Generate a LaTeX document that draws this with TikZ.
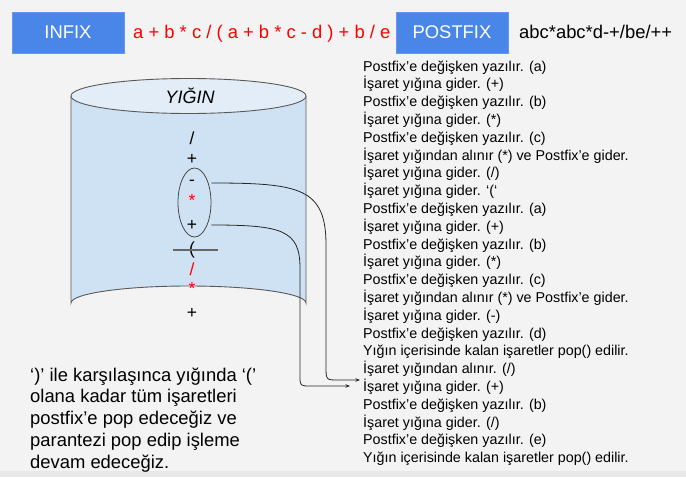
\documentclass[tikz,border=0pt]{standalone}
\usepackage{fontspec}
\setmainfont{Liberation Sans}
\usetikzlibrary{arrows.meta,shapes.geometric}
\definecolor{bg}{HTML}{F3F3F3}
\definecolor{boxblue}{HTML}{4A86E8}
\definecolor{cylfill}{HTML}{CFE2F3}
\definecolor{cyltop}{HTML}{E2EDF8}
\definecolor{edgec}{HTML}{595959}
\definecolor{rd}{HTML}{FF0000}
\begin{document}
\begin{tikzpicture}[x=1pt,y=-1pt,
  hdrbox/.style={fill=boxblue, draw=boxblue!85!white, line width=0.6pt, minimum width=112pt, minimum height=41pt, inner sep=0, text=white, font=\fontsize{18.4}{22}\selectfont},
  big/.style={font=\fontsize{18.4}{22}\selectfont, inner sep=0, anchor=base west},
  stepline/.style={font=\fontsize{14.3}{17}\selectfont, inner sep=0, anchor=base west},
  sym/.style={font=\fontsize{17.5}{20}\selectfont, inner sep=0},
  redsym/.style={sym, text=rd},
  conn/.style={draw=black!85, line width=0.8pt, -{Stealth[length=4.5pt,width=3.5pt]}},
]
\useasboundingbox (0,0) rectangle (686,477);
\fill[bg] (0,0) rectangle (686,477);
\fill[black!9] (0,471) rectangle (686,477);

% header
\node[hdrbox] (infix) at (68,32.5) {INFIX};
\node[hdrbox] (postfix) at (452,32.5) {POSTFIX};
\node[big, text=rd] (expr) at (133,38.5) {a + b * c / ( a + b * c - d ) + b / e};
\node[big] (res) at (519,38.5) {abc*abc*d-+/be/++};

% cylinder
\path[fill=cylfill, draw=edgec, line width=0.9pt] (71,96) -- (71,303)
  arc[start angle=180, end angle=360, x radius=117.5, y radius=17] -- (306,96);
\draw[fill=cyltop, draw=edgec, line width=0.9pt] (188.5,96) ellipse[x radius=117.5, y radius=17.5];
\node[font=\itshape\fontsize{18}{21}\selectfont, inner sep=0] (title) at (190,96) {YIĞIN};

% stack contents
\node[sym] (s1) at (192,138) {/};
\node[sym] (s2) at (192,159) {+};
\node[sym] (minus) at (192,183) {-};
\node[redsym] (st1) at (192,200) {*};
\node[sym] (plus2) at (192,225) {+};
\node[sym] (paren) at (192,250) {(};
\node[redsym] (s7) at (192,269) {/};
\node[redsym] (s8) at (192,288) {*};
\node[sym] (s9) at (192,313) {+};

\node[draw=edgec!80!black, ellipse, minimum width=33pt, minimum height=69pt, inner sep=0, line width=0.8pt] (grp) at (194.5,202.5) {};
\draw[draw=black!60, line width=2pt] ([xshift=-19pt]paren.center) -- ([xshift=26pt]paren.center);

% step list
\foreach \t [count=\i] in {
 {Postfix’e değişken yazılır. (a)},
 {İşaret yığına gider. (+)},
 {Postfix’e değişken yazılır. (b)},
 {İşaret yığına gider. (*)},
 {Postfix’e değişken yazılır. (c)},
 {İşaret yığından alınır (*) ve Postfix’e gider.},
 {İşaret yığına gider. (/)},
 {İşaret yığına gider. ‘(‘},
 {Postfix’e değişken yazılır. (a)},
 {İşaret yığına gider. (+)},
 {Postfix’e değişken yazılır. (b)},
 {İşaret yığına gider. (*)},
 {Postfix’e değişken yazılır. (c)},
 {İşaret yığından alınır (*) ve Postfix’e gider.},
 {İşaret yığına gider. (-)},
 {Postfix’e değişken yazılır. (d)},
 {Yığın içerisinde kalan işaretler pop() edilir.},
 {İşaret yığından alınır. (/)},
 {İşaret yığına gider. (+)},
 {Postfix’e değişken yazılır. (b)},
 {İşaret yığına gider. (/)},
 {Postfix’e değişken yazılır. (e)},
 {Yığın içerisinde kalan işaretler pop() edilir.}}
{\node[stepline] (r\i) at (363,{71+17.8*(\i-1)}) {\t};}

% note
\node[big] (b1) at (30,381) {‘)’ ile karşılaşınca yığında ‘(’};
\node[big] (b2) at (30,402.8) {olana kadar tüm işaretleri};
\node[big] (b3) at (30,424.6) {postfix’e pop edeceğiz ve};
\node[big] (b4) at (30,446.4) {parantezi pop edip işleme};
\node[big] (b5) at (30,468.2) {devam edeceğiz.};

% connectors
\coordinate (t1) at (360,380);
\coordinate (t2) at (350,386);
\draw[conn] (grp.east |- minus) .. controls (300,183) and (326,188) .. (326,245)
  -- (326,366) .. controls (326,380) .. (338,380) -- (t1);
\draw[conn] (grp.east |- plus2) .. controls (282,225) and (300,230) .. (300,268)
  -- (300,376) .. controls (300,386) .. (311,386) -- (t2);
\end{tikzpicture}
\end{document}
